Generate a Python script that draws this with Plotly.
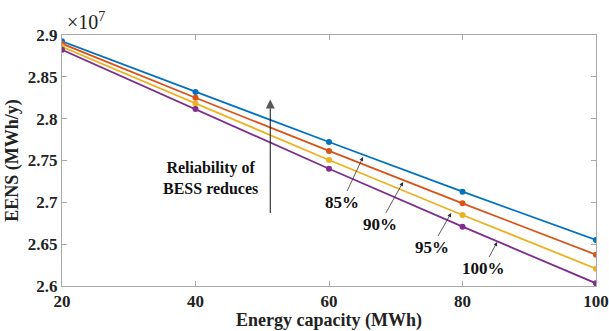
import plotly.graph_objects as go

# Energy capacity of the BESS (MWh)
capacity_mwh = [20, 40, 60, 80, 100]

# EENS in units of 1e7 MWh/y, one series per BESS reliability level
eens_85 = [2.8925, 2.8319, 2.7721, 2.7127, 2.6550]
eens_90 = [2.8896, 2.8250, 2.7614, 2.6988, 2.6374]
eens_95 = [2.8860, 2.8179, 2.7506, 2.6849, 2.6207]
eens_100 = [2.8824, 2.8116, 2.7402, 2.6709, 2.6032]

series = [
    ("85%", eens_85, "#0072BD"),
    ("90%", eens_90, "#D95319"),
    ("95%", eens_95, "#EDB120"),
    ("100%", eens_100, "#7E2F8E"),
]

y_ticks = [2.6, 2.65, 2.7, 2.75, 2.8, 2.85, 2.9]
y_tick_text = ["2.6", "2.65", "2.7", "2.75", "2.8", "2.85", "2.9"]
x_ticks = [20, 40, 60, 80, 100]

FONT = "Liberation Serif"
INK = "#222222"

fig = go.Figure()
for name, vals, color in series:
    fig.add_trace(go.Scatter(
        x=capacity_mwh, y=vals, mode="lines+markers", name=name,
        line=dict(color=color, width=1.8),
        marker=dict(color=color, size=6),
        showlegend=False,
    ))

# vertical trend arrow: shaft with an arrow-head marker at its top end
fig.add_trace(go.Scatter(
    x=[51.2, 51.2], y=[2.6873, 2.8230], mode="lines+markers",
    line=dict(color="#111111", width=1),
    marker=dict(symbol="arrow-up", size=[0, 9], color="#111111",
                line=dict(width=0)),
    showlegend=False, hoverinfo="skip",
))

axis_common = dict(
    showgrid=False, zeroline=False, showline=True, linecolor="#a8a8a8",
    linewidth=1, mirror="allticks", ticks="inside", ticklen=5,
    tickcolor="#a8a8a8", automargin=False,
    tickfont=dict(family=FONT, size=17, color=INK),
)

fig.update_xaxes(
    range=[20, 100], tickvals=x_ticks,
    ticktext=[f"<b>{t}</b>" for t in x_ticks],
    title=dict(text="<b>Energy capacity (MWh)</b>",
               font=dict(family=FONT, size=18, color=INK), standoff=3),
    **axis_common,
)
fig.update_yaxes(
    range=[2.6, 2.9], tickvals=y_ticks,
    ticktext=[f"<b>{t}</b>" for t in y_tick_text],
    title=dict(text="<b>EENS (MWh/y)</b>",
               font=dict(family=FONT, size=18, color=INK), standoff=4),
    **axis_common,
)

annotations = [
    # exponent marker for the y axis
    dict(text="×10<sup>7</sup>", xref="paper", yref="paper", x=0.006, y=1.0,
         xanchor="left", yanchor="bottom", showarrow=False,
         font=dict(family=FONT, size=20, color=INK)),
    dict(x=42.3, y=2.729, xref="x", yref="y", showarrow=False,
         text="<b>Reliability of<br>BESS reduces</b>",
         font=dict(family=FONT, size=16, color="#111111")),
]

# reliability labels, each with an arrow pointing at its curve
labels = [
    ("85%", (61.95, 2.7004), (65.1, 2.7542)),
    ("90%", (67.6, 2.6741), (71.1, 2.7243)),
    ("95%", (75.4, 2.6466), (78.3, 2.6873)),
    ("100%", (83.1, 2.6215), (85.2, 2.6526)),
]
for text, (tx, ty), (hx, hy) in labels:
    annotations.append(dict(x=hx, y=hy, ax=tx, ay=ty, xref="x", yref="y",
                            axref="x", ayref="y", showarrow=True, arrowhead=2,
                            arrowsize=1, arrowwidth=0.8, arrowcolor="#333333",
                            text=f"<b>{text}</b>",
                            font=dict(family=FONT, size=17, color="#111111")))

fig.update_layout(
    width=609, height=331,
    margin=dict(l=62, r=13, t=35, b=45),
    plot_bgcolor="white", paper_bgcolor="white",
    annotations=annotations,
)

fig.write_html("out.html")
